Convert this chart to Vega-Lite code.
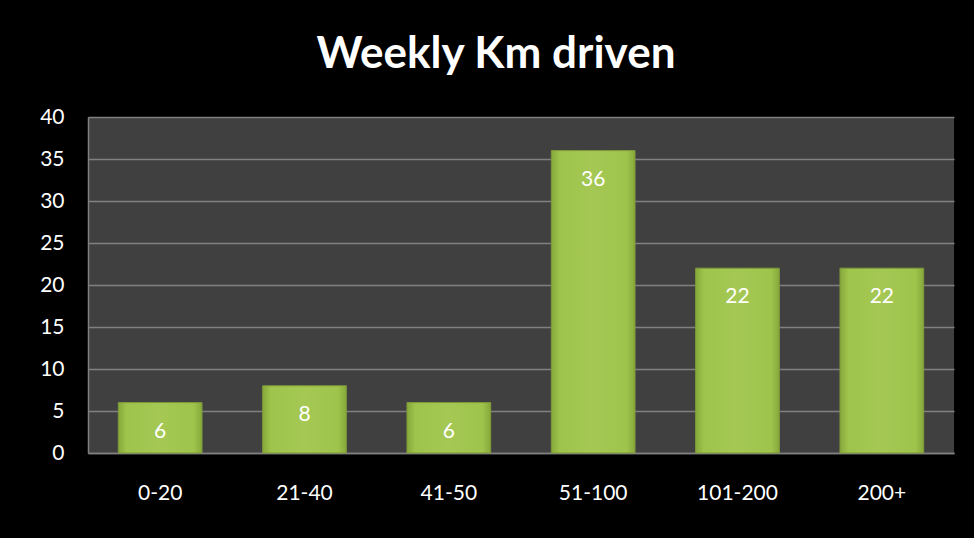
{
  "$schema": "https://vega.github.io/schema/vega-lite/v6.json",
  "autosize": {"type": "none"},
  "width": 866,
  "height": 336,
  "padding": {"left": 88, "top": 117, "right": 20, "bottom": 85},
  "background": "#000000",
  "title": {
    "text": "Weekly Km driven",
    "font": "Lato",
    "fontSize": 44,
    "fontWeight": "bold",
    "color": "#ffffff",
    "anchor": "middle",
    "dx": -25,
    "offset": 29
  },
  "data": {
    "values": [
      {"range": "0-20", "count": 6},
      {"range": "21-40", "count": 8},
      {"range": "41-50", "count": 6},
      {"range": "51-100", "count": 36},
      {"range": "101-200", "count": 22},
      {"range": "200+", "count": 22}
    ]
  },
  "encoding": {
    "x": {
      "field": "range",
      "type": "nominal",
      "sort": null,
      "scale": {"paddingInner": 0.42, "paddingOuter": 0.21},
      "axis": {
        "title": null,
        "labelAngle": 0,
        "labelFont": "Lato",
        "labelFontSize": 21,
        "labelColor": "#ffffff",
        "labelPadding": 29,
        "ticks": false,
        "domainColor": "#808080",
        "domainWidth": 1.5
      }
    },
    "y": {
      "field": "count",
      "type": "quantitative",
      "scale": {"domain": [0, 40], "nice": false},
      "axis": {
        "title": null,
        "values": [0, 5, 10, 15, 20, 25, 30, 35, 40],
        "labelFont": "Lato",
        "labelFontSize": 21,
        "labelColor": "#ffffff",
        "labelPadding": 24,
        "ticks": false,
        "domainColor": "#808080",
        "domainWidth": 1.5,
        "gridColor": "#808080",
        "gridWidth": 1.5
      }
    }
  },
  "layer": [
    {
      "mark": {
        "type": "bar",
        "stroke": "#7f9a3a",
        "strokeWidth": 1,
        "fill": {
          "gradient": "linear",
          "x1": 0, "y1": 0, "x2": 1, "y2": 0,
          "stops": [
            {"offset": 0, "color": "#86a83a"},
            {"offset": 0.1, "color": "#9fc44c"},
            {"offset": 0.5, "color": "#a4c853"},
            {"offset": 0.9, "color": "#9fc44c"},
            {"offset": 1, "color": "#86a83a"}
          ]
        }
      }
    },
    {
      "mark": {
        "type": "text",
        "font": "Lato",
        "fontSize": 21,
        "color": "#ffffff",
        "baseline": "middle",
        "dy": 29
      },
      "encoding": {"text": {"field": "count", "type": "quantitative"}}
    }
  ],
  "config": {
    "view": {"fill": "#404040", "stroke": null}
  }
}
